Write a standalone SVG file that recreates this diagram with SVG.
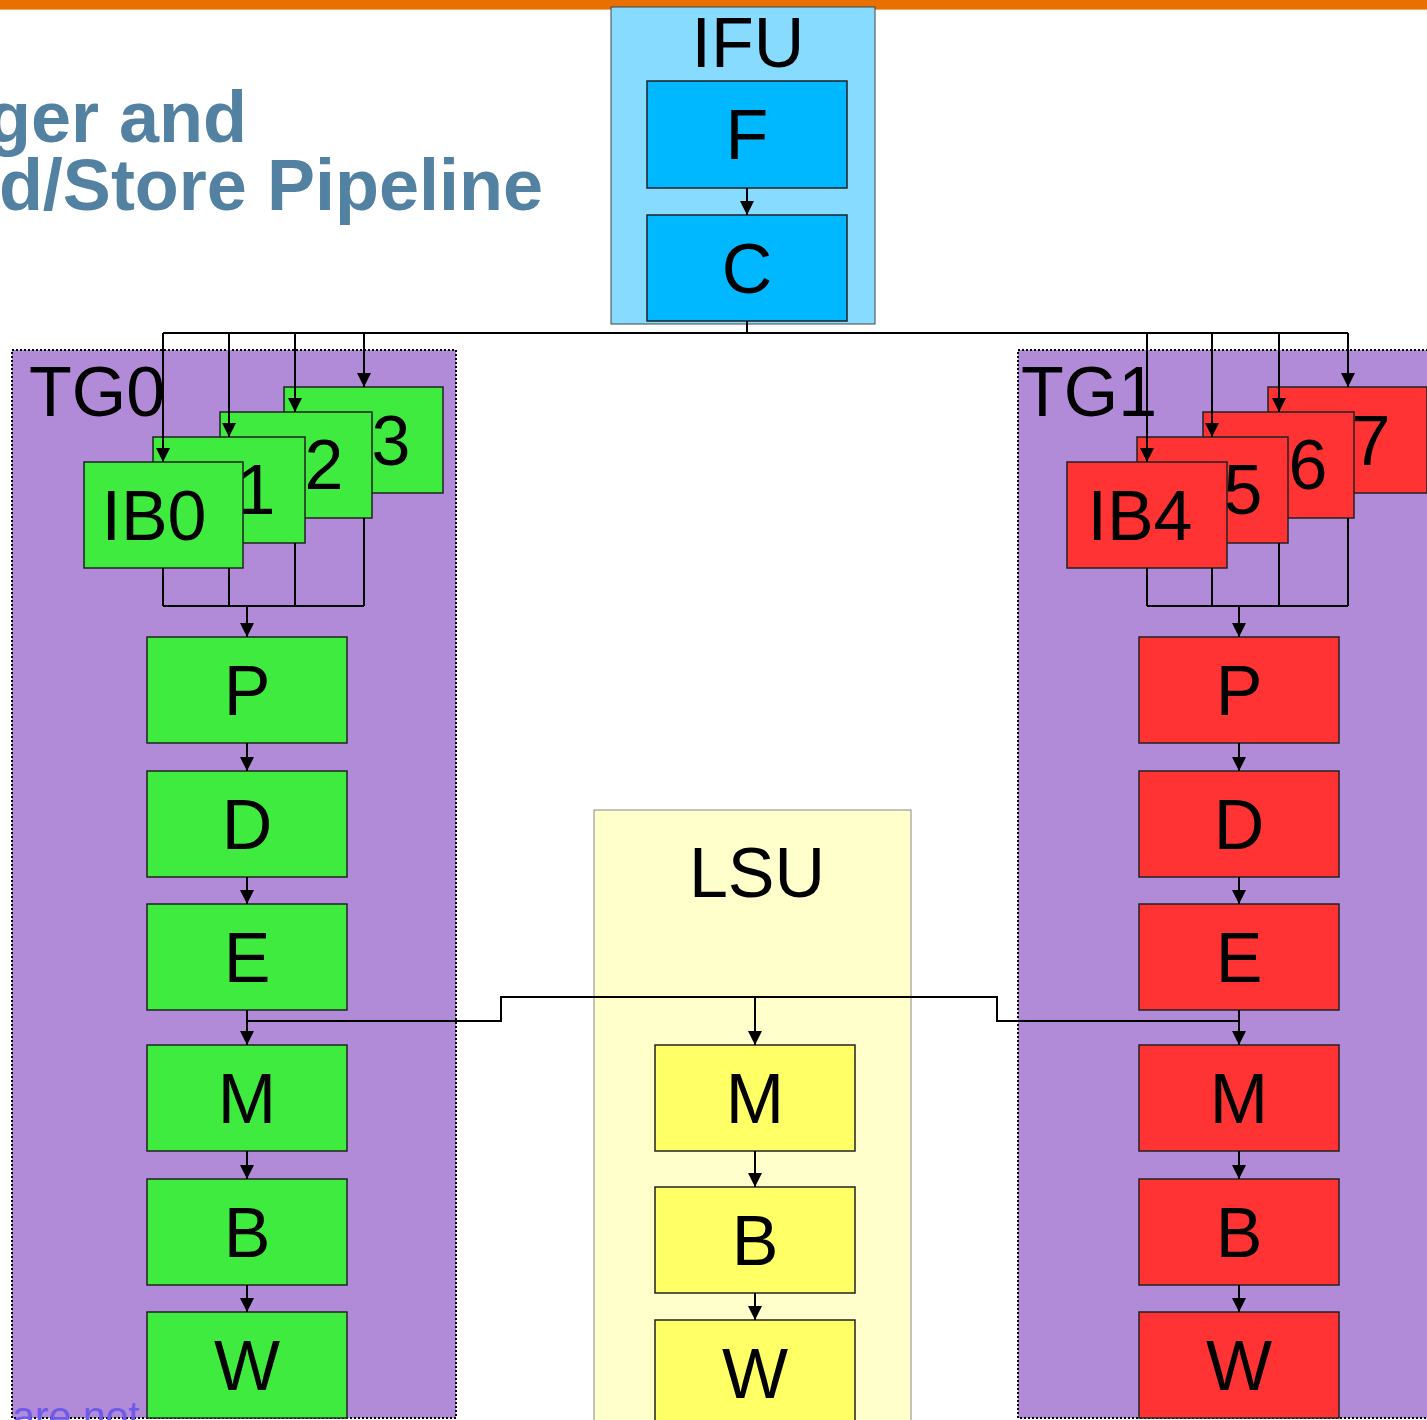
<svg xmlns="http://www.w3.org/2000/svg" width="1427" height="1420" viewBox="0 0 1427 1420">
<style>
.t{font-family:"Liberation Sans",Arial,sans-serif;font-size:70px;fill:#000;text-anchor:middle}
.tl{font-family:"Liberation Sans",Arial,sans-serif;font-size:70px;fill:#000}
.title{font-family:"Liberation Sans",Arial,sans-serif;font-size:72px;font-weight:bold;fill:#5381A1;text-anchor:end}
.g{fill:#3EEB3E;stroke:#222;stroke-width:1.5}
.r{fill:#FF3333;stroke:#222;stroke-width:1.5}
.y{fill:#FFFF66;stroke:#222;stroke-width:1.5}
.b{fill:#00B8FF;stroke:#222;stroke-width:1.5}
.tg{fill:#B18AD8;stroke:#000;stroke-width:2;stroke-dasharray:2,2}
.c{fill:none;stroke:#000;stroke-width:2}
.a{fill:none;stroke:#000;stroke-width:2;marker-end:url(#ah)}
</style>
<defs>
<marker id="ah" markerUnits="userSpaceOnUse" markerWidth="14" markerHeight="14" refX="14" refY="7" orient="auto">
<path d="M0,0 L14,7 L0,14 z" fill="#000"/>
</marker>
</defs>
<rect x="0" y="0" width="1427" height="9" fill="#E87000"/>
<rect x="0" y="9" width="1427" height="1" fill="#F4A860"/>
<text class="title" x="247" y="142">ger and</text>
<text class="title" x="543" y="210">d/Store Pipeline</text>

<g id="TG0">
<rect class="tg" x="12" y="350" width="444" height="1068"/>
<text class="tl" x="29" y="416">TG0</text>
</g>
<text x="12" y="1430" font-family="Liberation Sans,Arial,sans-serif" font-size="41" fill="#6E5AE8">are not</text>
<g id="TG1">
<rect class="tg" x="1018" y="350" width="420" height="1068"/>
<text class="tl" x="1021" y="416">TG1</text>
</g>
<g id="LSU">
<rect x="594" y="810" width="317" height="620" fill="#FFFFCC" stroke="#888" stroke-width="1"/>
<text class="t" x="757" y="897">LSU</text>
</g>
<g id="IFU">
<rect x="611" y="7" width="264" height="317" fill="#87DBFF" stroke="#444" stroke-width="1"/>
<text class="t" x="748" y="67">IFU</text>
</g>
<g id="IFU_F"><rect class="b" x="647" y="81" width="200" height="107"/><text class="t" x="747" y="159">F</text></g>
<g id="IFU_C"><rect class="b" x="647" y="215" width="200" height="106"/><text class="t" x="747" y="293">C</text></g>

<g id="IB3"><rect class="g" x="284" y="387" width="159" height="106"/><text class="t" x="358" y="465">IB3</text></g>
<g id="IB2"><rect class="g" x="220" y="412" width="152" height="106"/><text class="t" x="291" y="489">IB2</text></g>
<g id="IB1"><rect class="g" x="153" y="437" width="152" height="106"/><text class="t" x="223" y="514">IB1</text></g>
<g id="IB0"><rect class="g" x="84" y="462" width="159" height="106"/><text class="t" x="154" y="540">IB0</text></g>

<g id="IB7"><rect class="r" x="1268" y="387" width="159" height="106"/><text class="t" x="1338" y="465">IB7</text></g>
<g id="IB6"><rect class="r" x="1203" y="412" width="151" height="106"/><text class="t" x="1275" y="489">IB6</text></g>
<g id="IB5"><rect class="r" x="1137" y="437" width="151" height="106"/><text class="t" x="1210" y="514">IB5</text></g>
<g id="IB4"><rect class="r" x="1067" y="462" width="160" height="106"/><text class="t" x="1140" y="540">IB4</text></g>

<g id="TG0_P"><rect class="g" x="147" y="637" width="200" height="106"/><text class="t" x="247" y="715">P</text></g>
<g id="TG0_D"><rect class="g" x="147" y="771" width="200" height="106"/><text class="t" x="247" y="849">D</text></g>
<g id="TG0_E"><rect class="g" x="147" y="904" width="200" height="106"/><text class="t" x="247" y="982">E</text></g>
<g id="TG0_M"><rect class="g" x="147" y="1045" width="200" height="106"/><text class="t" x="247" y="1123">M</text></g>
<g id="TG0_B"><rect class="g" x="147" y="1179" width="200" height="106"/><text class="t" x="247" y="1257">B</text></g>
<g id="TG0_W"><rect class="g" x="147" y="1312" width="200" height="106"/><text class="t" x="247" y="1390">W</text></g>

<g id="TG1_P"><rect class="r" x="1139" y="637" width="200" height="106"/><text class="t" x="1239" y="715">P</text></g>
<g id="TG1_D"><rect class="r" x="1139" y="771" width="200" height="106"/><text class="t" x="1239" y="849">D</text></g>
<g id="TG1_E"><rect class="r" x="1139" y="904" width="200" height="106"/><text class="t" x="1239" y="982">E</text></g>
<g id="TG1_M"><rect class="r" x="1139" y="1045" width="200" height="106"/><text class="t" x="1239" y="1123">M</text></g>
<g id="TG1_B"><rect class="r" x="1139" y="1179" width="200" height="106"/><text class="t" x="1239" y="1257">B</text></g>
<g id="TG1_W"><rect class="r" x="1139" y="1312" width="200" height="106"/><text class="t" x="1239" y="1390">W</text></g>

<g id="LSU_M"><rect class="y" x="655" y="1045" width="200" height="106"/><text class="t" x="755" y="1123">M</text></g>
<g id="LSU_B"><rect class="y" x="655" y="1187" width="200" height="106"/><text class="t" x="755" y="1265">B</text></g>
<g id="LSU_W"><rect class="y" x="655" y="1320" width="200" height="106"/><text class="t" x="755" y="1398">W</text></g>

<g id="connectors">
<path class="a" d="M747,188 V215"/>
<path class="c" d="M747,321 V333 M163,333 H1348"/>
<path class="a" d="M163,333 V462"/>
<path class="a" d="M229,333 V437"/>
<path class="a" d="M295,333 V412"/>
<path class="a" d="M364,333 V387"/>
<path class="a" d="M1147,333 V462"/>
<path class="a" d="M1212,333 V437"/>
<path class="a" d="M1279,333 V412"/>
<path class="a" d="M1348,333 V387"/>
<path class="c" d="M163,568 V606 M229,568 V606 M295,543 V606 M364,518 V606 M163,606 H364"/>
<path class="a" d="M247,606 V637"/>
<path class="c" d="M1147,568 V606 M1212,568 V606 M1279,543 V606 M1348,518 V606 M1147,606 H1348"/>
<path class="a" d="M1239,606 V637"/>
<path class="a" d="M247,743 V771"/>
<path class="a" d="M247,877 V904"/>
<path class="a" d="M247,1010 V1045"/>
<path class="a" d="M247,1151 V1179"/>
<path class="a" d="M247,1285 V1312"/>
<path class="a" d="M1239,743 V771"/>
<path class="a" d="M1239,877 V904"/>
<path class="a" d="M1239,1010 V1045"/>
<path class="a" d="M1239,1151 V1179"/>
<path class="a" d="M1239,1285 V1312"/>
<path class="c" d="M247,1021 H501 V997 H997 V1021 H1239"/>
<path class="a" d="M755,997 V1045"/>
<path class="a" d="M755,1151 V1187"/>
<path class="a" d="M755,1293 V1320"/>
</g>
</svg>
